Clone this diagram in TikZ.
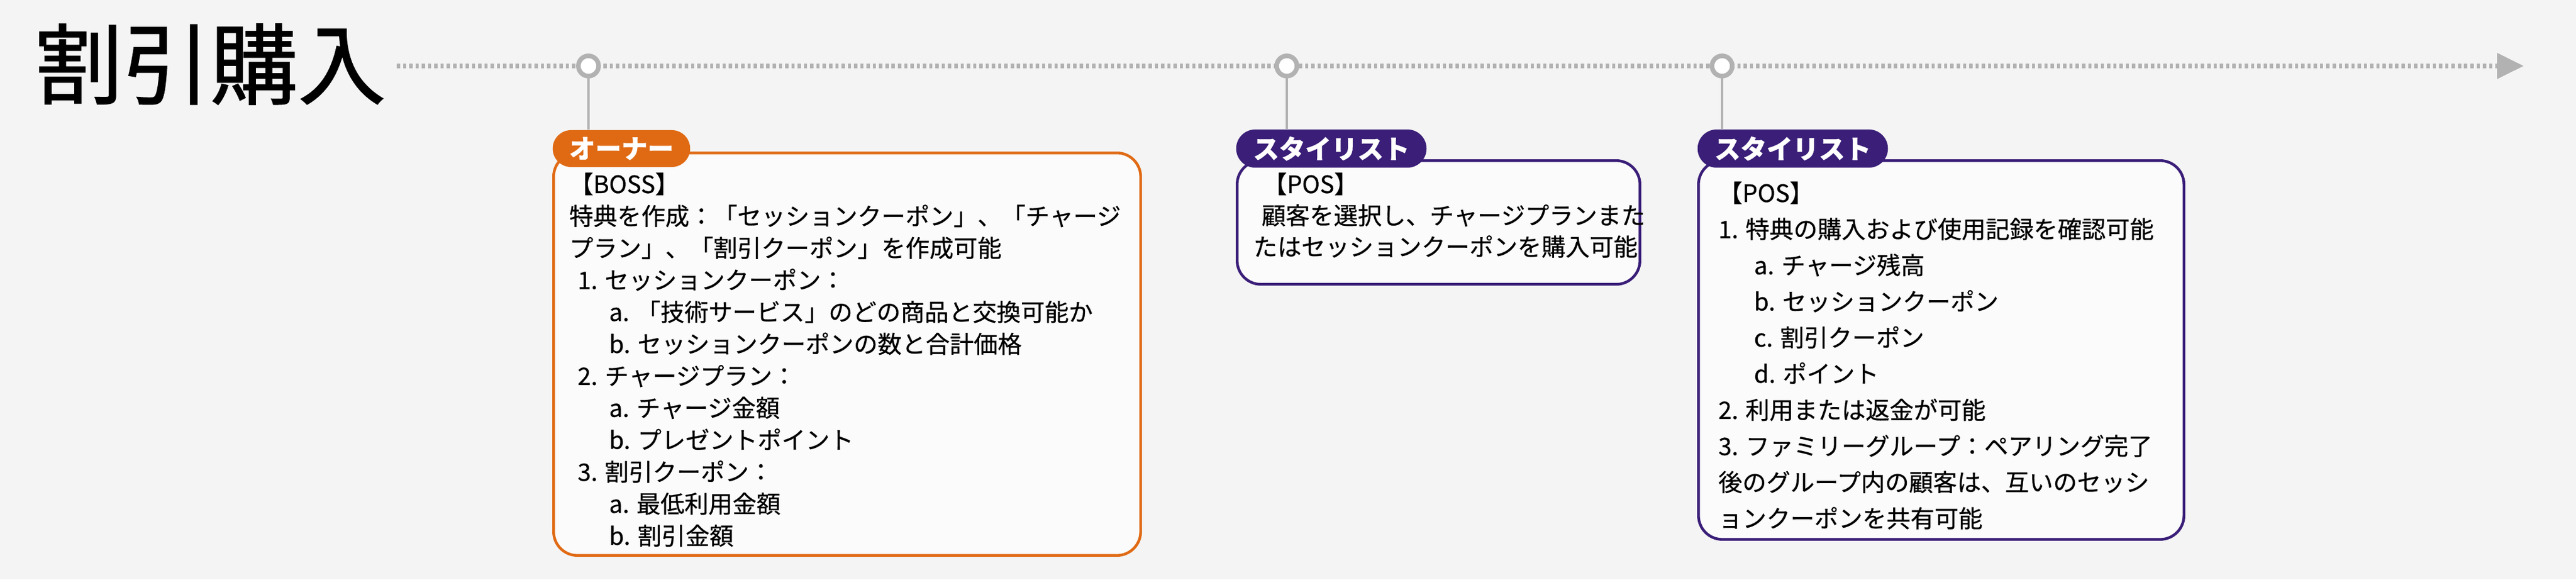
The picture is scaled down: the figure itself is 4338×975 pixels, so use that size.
\documentclass[tikz,border=0pt]{standalone}
\usepackage{fontspec}
\setmainfont{Noto Sans CJK JP}[FakeBold=0.5]
\newfontfamily\titlefont{Noto Sans CJK JP}[FakeBold=1.2]
\usetikzlibrary{shapes.misc,arrows.meta}
\definecolor{bgGray}{RGB}{244,244,244}
\definecolor{lineGray}{RGB}{178,178,178}
\definecolor{ownerColor}{RGB}{224,106,20}
\definecolor{stylistColor}{RGB}{58,30,120}
\tikzset{
  card/.style={draw=#1, line width=1.3pt, rounded corners=0.4cm, fill=white!60!bgGray, anchor=north west, inner sep=0pt},
  tag/.style={rounded rectangle, fill=#1, text=white, font=\fontsize{12.5}{14}\selectfont\bfseries, minimum height=0.59cm, inner xsep=6pt, anchor=west},
  stop/.style={circle, draw=lineGray, line width=2.2pt, fill=white, minimum size=0.34cm, inner sep=0pt},
  body/.style={anchor=north west, inner sep=0pt, align=left, font=\fontsize{11.5}{#1}\selectfont},
  link/.style={lineGray, line width=1.4pt}
}
\begin{document}
\begin{tikzpicture}[x=0.01cm, y=-0.01cm]
    % Background
    \fill[bgGray] (0,0) rectangle (4338,975);
    \useasboundingbox (0,0) rectangle (4338,975);
    % Title
    \node[anchor=west, inner sep=0pt, font=\titlefont\fontsize{42}{46}\selectfont] (title) at (58,108) {割引購入};
    % Timeline
    \coordinate (tlstart) at (668,111);
    \coordinate (tlend) at (4250,111);
    \draw[lineGray, line width=2.2pt, dash pattern=on 1.6pt off 1.4pt, -{Triangle[length=0.45cm, width=0.42cm]}] (tlstart) -- (tlend);
    % Cards
    \node[card=ownerColor, minimum width=9.88cm, minimum height=6.77cm] (box1) at (930,255) {};
    \node[card=stylistColor, minimum width=6.78cm, minimum height=2.08cm] (box2) at (2081,268) {};
    \node[card=stylistColor, minimum width=8.17cm, minimum height=6.37cm] (box3) at (2858,268) {};
    % Tags
    \node[tag=ownerColor] (tag1) at (930,250) {オーナー};
    \node[tag=stylistColor] (tag2) at (2081,250) {スタイリスト};
    \node[tag=stylistColor] (tag3) at (2858,250) {スタイリスト};
    % Stops on the timeline
    \node[stop] (c1) at (991,111) {};
    \node[stop] (c2) at (2167,111) {};
    \node[stop] (c3) at (2900,111) {};
    \draw[link] (c1) -- (c1 |- tag1.north);
    \draw[link] (c2) -- (c2 |- tag2.north);
    \draw[link] (c3) -- (c3 |- tag3.north);
    % Texts
    \node[body=15.3pt] (text1) at (958,290) {%
      【BOSS】\\
      特典を作成：「セッションクーポン」、「チャージ\\
      プラン」、「割引クーポン」を作成可能\\
      \hspace{0.14cm}1. セッションクーポン：\\
      \hspace{0.67cm}a. 「技術サービス」のどの商品と交換可能か\\
      \hspace{0.67cm}b. セッションクーポンの数と合計価格\\
      \hspace{0.14cm}2. チャージプラン：\\
      \hspace{0.67cm}a. チャージ金額\\
      \hspace{0.67cm}b. プレゼントポイント\\
      \hspace{0.14cm}3. 割引クーポン：\\
      \hspace{0.67cm}a. 最低利用金額\\
      \hspace{0.67cm}b. 割引金額};
    \node[body=15pt] (text2) at (2110,290) {%
      \hspace{0.16cm}【POS】\\
      \hspace{0.14cm}顧客を選択し、チャージプランまた\\
      たはセッションクーポンを購入可能};
    \node[body=17.3pt] (text3) at (2893,305) {%
      【POS】\\
      1. 特典の購入および使用記録を確認可能\\
      \hspace{0.6cm}a. チャージ残高\\
      \hspace{0.6cm}b. セッションクーポン\\
      \hspace{0.6cm}c. 割引クーポン\\
      \hspace{0.6cm}d. ポイント\\
      2. 利用または返金が可能\\
      3. ファミリーグループ：ペアリング完了\\
      後のグループ内の顧客は、互いのセッシ\\
      ョンクーポンを共有可能};
\end{tikzpicture}
\end{document}
